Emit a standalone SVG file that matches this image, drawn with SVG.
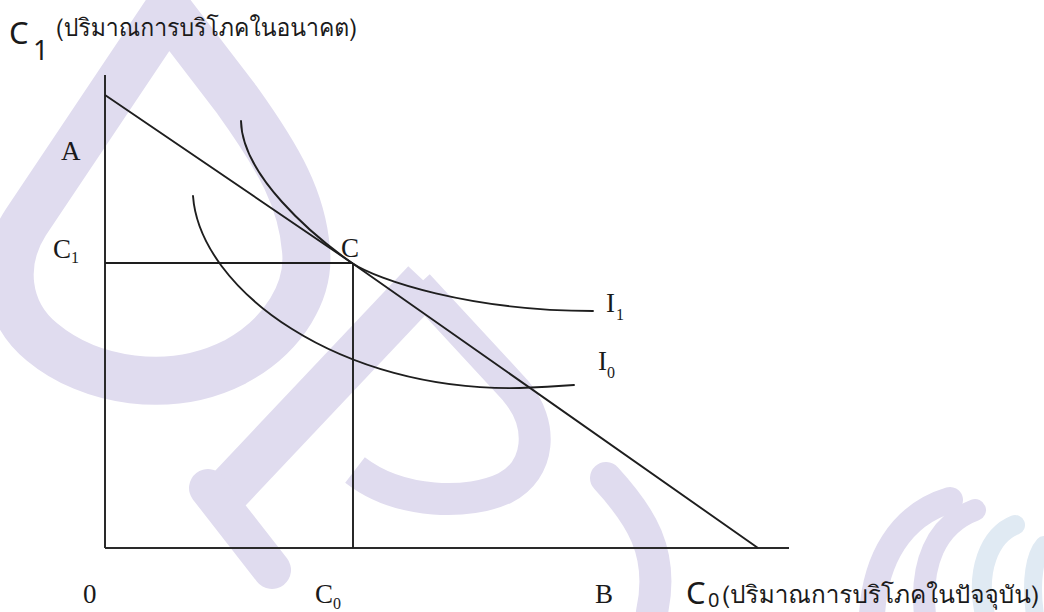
<svg xmlns="http://www.w3.org/2000/svg" width="1044" height="612" viewBox="0 0 1044 612">
<style>
.wm{fill:none;stroke:#e0dcef;stroke-linejoin:round}
.wb{fill:none;stroke:#e0eaf3;stroke-linecap:round}
.ax{fill:none;stroke:#2a2a2a;stroke-width:2}
.ln{fill:none;stroke:#1e1e1e;stroke-width:1.9}
.cv{fill:none;stroke:#1e1e1e;stroke-width:1.9;stroke-linecap:round}
.lb{font-family:"Liberation Serif","Times New Roman",serif;font-size:27px;fill:#1a1a1a}
.sb{font-family:"Liberation Serif","Times New Roman",serif;font-size:16px;fill:#1a1a1a}
.ts{font-family:"Noto Sans","DejaVu Sans",sans-serif;fill:#1a1a1a}
.th{font-family:"Tahoma","Loma","Garuda","Noto Sans Thai Looped","Noto Sans Thai","Noto Sans","DejaVu Sans",sans-serif;font-size:24px;fill:#1a1a1a}
</style>
<rect width="1044" height="612" fill="#ffffff"/>
<g id="watermark">
<path class="wm" stroke-width="48" d="M168,10 L26,222 C0,262 5,312 42,342 C90,382 170,395 235,362 C285,335 310,290 306,250 C302,200 280,160 237,100 Z"/>
<path class="wm" stroke-width="46" stroke-linecap="butt" d="M222,497 L425,282"/>
<path class="wm" stroke-width="38" stroke-linecap="round" d="M208,488 L272,570"/>
<path class="wm" stroke-width="32" d="M418,285 L515,390 C545,425 540,470 505,488 C470,505 400,505 355,470"/>
<path class="wm" stroke-width="32" stroke-linecap="round" d="M606,478 C640,515 665,552 652,612"/>
<path class="wm" stroke-width="26" stroke-linecap="round" d="M872,615 C875,560 900,515 950,500"/>
<path class="wm" stroke-width="22" stroke-linecap="round" d="M925,615 C920,565 935,525 975,510"/>
<path class="wb" stroke-width="20" d="M985,615 C975,570 990,535 1015,525"/>
<path class="wb" stroke-width="18" d="M1035,615 C1030,580 1035,555 1044,545"/>
</g>
<g id="connectors">
<path id="y-axis" class="ax" d="M105,75 L105,548"/>
<path id="x-axis" class="ax" d="M105,548 L789,548"/>
<path id="budget-line" class="ln" d="M105,95 L352,263 L758,548"/>
<path id="guide-h" class="ln" d="M105,263 L353,263"/>
<path id="guide-v" class="ln" d="M353,263 L353,548"/>
</g>
<g id="I1"><path class="cv" d="M241,121 C242,175 312,235 352,263 C377,280 470,311 593,311"/></g>
<g id="I0"><path class="cv" d="M193,196 C200,290 340,392 520,388 C545,387 560,386 574,385"/></g>
<g id="labels">
<text class="lb" x="61" y="160">A</text>
<text class="lb" x="53" y="258">C</text><text class="sb" x="71" y="263">1</text>
<text class="lb" x="341" y="257">C</text>
<text class="lb" x="606" y="312">I</text><text class="sb" x="616" y="320">1</text>
<text class="lb" x="598" y="370">I</text><text class="sb" x="607" y="378">0</text>
<text class="lb" x="83" y="603">0</text>
<text class="lb" x="315" y="603">C</text><text class="sb" x="333" y="609">0</text>
<text class="lb" x="595" y="603">B</text>
</g>
<g id="axis-title-y">
<text class="ts" x="9" y="44" font-size="31">C</text>
<text class="ts" x="33" y="60" font-size="27">1</text>
<text class="th" x="56" y="36" textLength="301" lengthAdjust="spacingAndGlyphs">(ปริมาณการบริโภคในอนาคต)</text>
</g>
<g id="axis-title-x">
<text class="ts" x="686" y="604" font-size="31">C</text>
<text class="ts" x="708" y="607" font-size="20">0</text>
<text class="th" x="722" y="603" textLength="317" lengthAdjust="spacingAndGlyphs">(ปริมาณการบริโภคในปัจจุบัน)</text>
</g>
</svg>
